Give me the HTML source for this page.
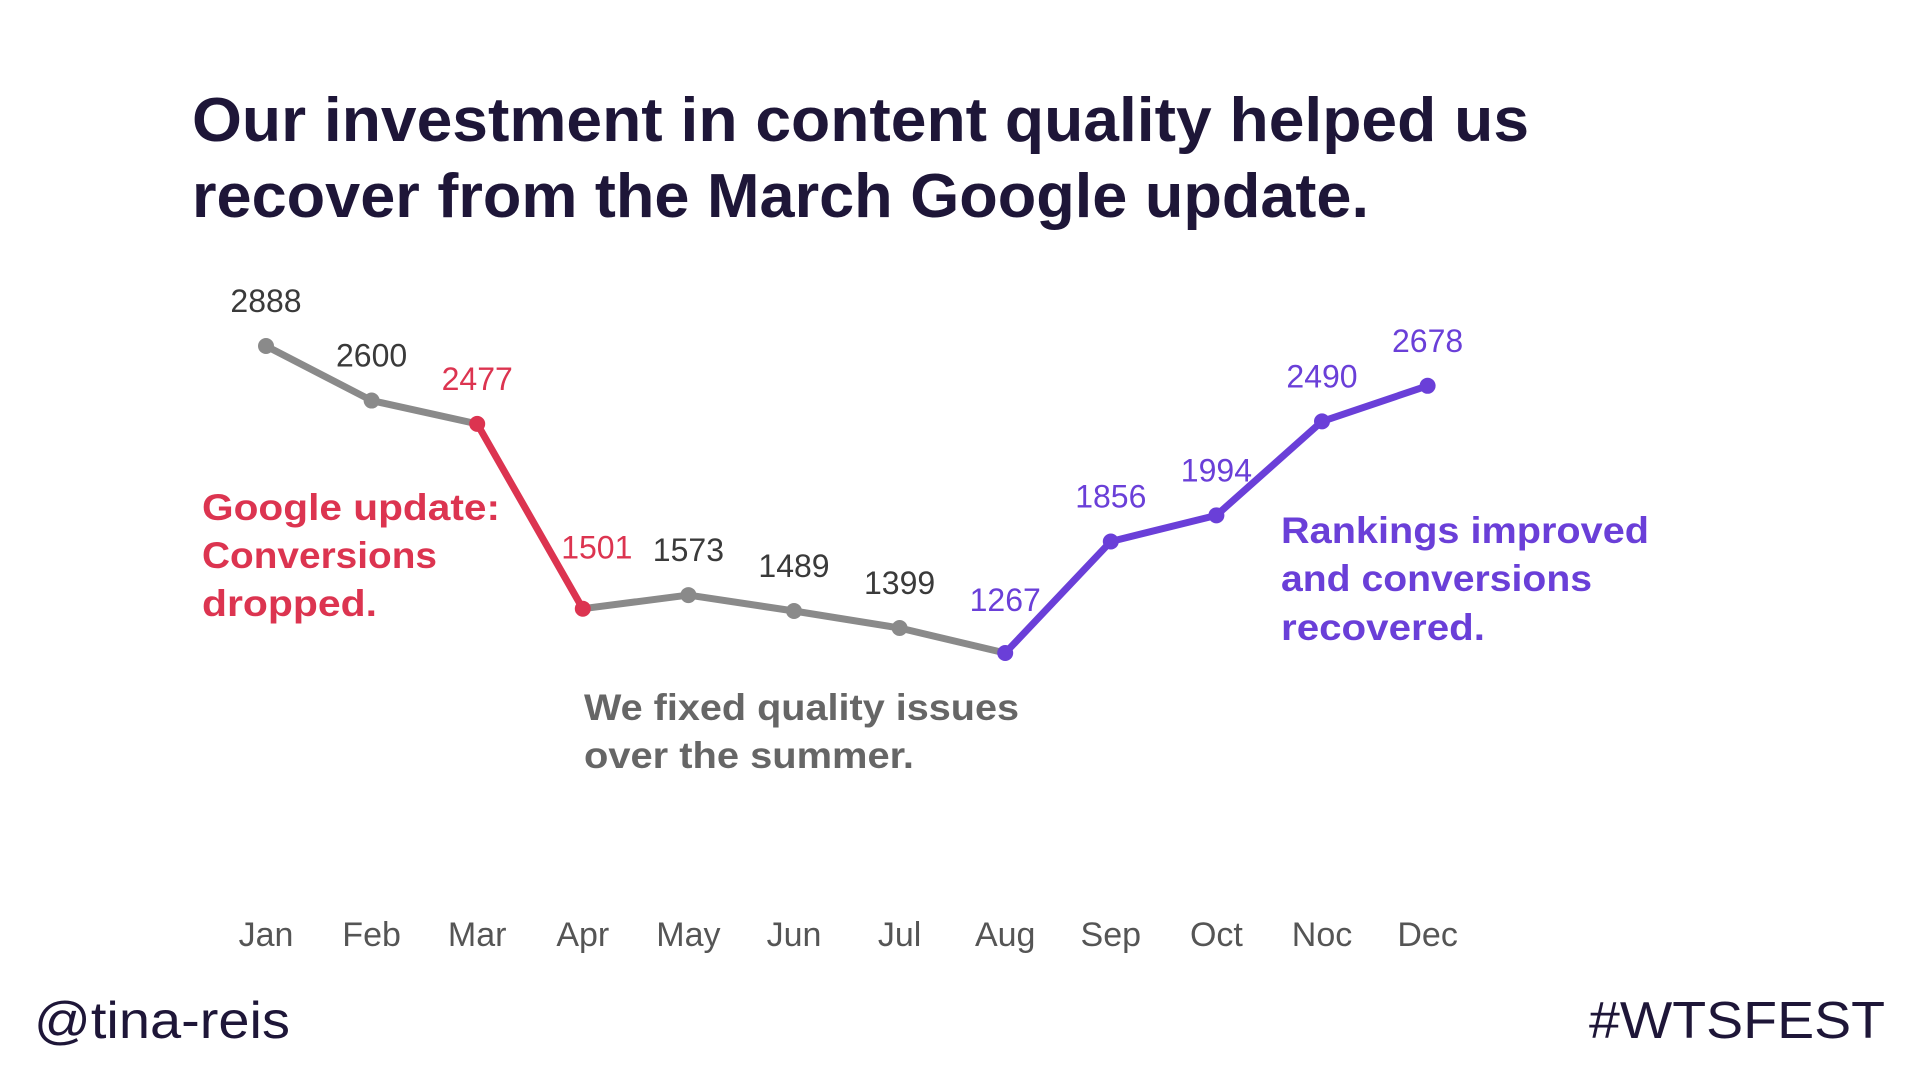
<!DOCTYPE html>
<html><head><meta charset="utf-8"><style>
html,body{margin:0;padding:0;background:#fff;}
svg{display:block;font-family:"Liberation Sans",sans-serif;}
</style></head><body>
<svg id="chart" width="1920" height="1080" viewBox="0 0 1920 1080">
<rect width="1920" height="1080" fill="#fff"/>
<g fill="#1e1638" font-weight="bold" font-size="62">
<text x="192" y="141" textLength="1337" lengthAdjust="spacingAndGlyphs">Our investment in content quality helped us</text>
<text x="192" y="217" textLength="1177" lengthAdjust="spacingAndGlyphs">recover from the March Google update.</text>
</g>
<g id="lines"></g>
<g id="dots"></g>
<g id="labels"></g>
<g id="months"></g>
<g fill="#dc3450" font-weight="bold" font-size="37">
<text x="202" y="520" textLength="298" lengthAdjust="spacingAndGlyphs">Google update:</text>
<text x="202" y="568" textLength="235" lengthAdjust="spacingAndGlyphs">Conversions</text>
<text x="202" y="616" textLength="175" lengthAdjust="spacingAndGlyphs">dropped.</text>
</g>
<g fill="#666" font-weight="bold" font-size="37">
<text x="584" y="720" textLength="435" lengthAdjust="spacingAndGlyphs">We fixed quality issues</text>
<text x="584" y="768" textLength="330" lengthAdjust="spacingAndGlyphs">over the summer.</text>
</g>
<g fill="#6a3fd8" font-weight="bold" font-size="37">
<text x="1281" y="543" textLength="368" lengthAdjust="spacingAndGlyphs">Rankings improved</text>
<text x="1281" y="591" textLength="311" lengthAdjust="spacingAndGlyphs">and conversions</text>
<text x="1281" y="640" textLength="204" lengthAdjust="spacingAndGlyphs">recovered.</text>
</g>
<text x="34" y="1038" font-size="52" fill="#1e1638" textLength="256" lengthAdjust="spacingAndGlyphs">@tina-reis</text>
<text x="1589" y="1038" font-size="52" fill="#1e1638" textLength="296" lengthAdjust="spacingAndGlyphs">#WTSFEST</text>
</svg>
<script>
const months = ["Jan","Feb","Mar","Apr","May","Jun","Jul","Aug","Sep","Oct","Noc","Dec"];
const values = [2888,2600,2477,1501,1573,1489,1399,1267,1856,1994,2490,2678];
const segmentGroups = ["gray","gray","red","gray","gray","gray","gray","purple","purple","purple","purple","purple"];
const pointGroups = ["gray","gray","red","red","gray","gray","gray","purple","purple","purple","purple","purple"];
const colors = {gray:"#8a8a8a", red:"#dc3450", purple:"#6a3fd8"};
const labelColors = {gray:"#3a3a3a", red:"#dc3450", purple:"#6a3fd8"};
const NS="http://www.w3.org/2000/svg";
function xScale(i){return 266+i*105.6;}
function yScale(v){return 893-v*0.1894;}
const gl=document.getElementById('lines'),gd=document.getElementById('dots'),gt=document.getElementById('labels'),gm=document.getElementById('months');
for(let i=0;i<values.length-1;i++){
  const l=document.createElementNS(NS,'line');
  
  
  l.setAttribute('x1',xScale(i));l.setAttribute('y1',yScale(values[i]));
  l.setAttribute('x2',xScale(i+1));l.setAttribute('y2',yScale(values[i+1]));
  l.setAttribute('stroke',colors[segmentGroups[i]]);
  l.setAttribute('stroke-width','7');l.setAttribute('stroke-linecap','round');
  gl.appendChild(l);
}
values.forEach((v,i)=>{
  const c=document.createElementNS(NS,'circle');
  
  
  c.setAttribute('cx',xScale(i));c.setAttribute('cy',yScale(v));c.setAttribute('r','8');
  c.setAttribute('fill',colors[pointGroups[i]]);
  gd.appendChild(c);
  const t=document.createElementNS(NS,'text');
  
  
  t.setAttribute('x',xScale(i)+(i===3?14:0));t.setAttribute('y',yScale(v)-(i===3?50:i===7?42:34));
  t.setAttribute('text-anchor','middle');t.setAttribute('font-size','32');
  t.setAttribute('fill',labelColors[pointGroups[i]]);
  t.textContent=v;
  gt.appendChild(t);
  const m=document.createElementNS(NS,'text');
  
  
  m.setAttribute('x',xScale(i));m.setAttribute('y',946);
  m.setAttribute('text-anchor','middle');m.setAttribute('font-size','34');m.setAttribute('fill','#555');
  m.textContent=months[i];
  gm.appendChild(m);
});
</script>
</body></html>
